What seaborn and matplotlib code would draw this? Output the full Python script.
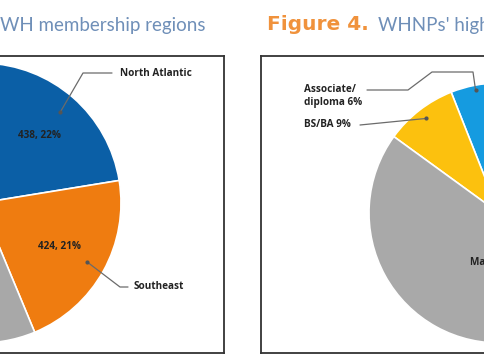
import numpy as np
import matplotlib
matplotlib.use("Agg")
import matplotlib.pyplot as plt
import seaborn as sns

# ---------------- data ----------------
region_names = ["North Atlantic", "Southeast", "Midwest", "West", "South Central", "Mountain"]
region_counts = [438, 424, 300, 290, 278, 260]
region_colors = ["#0b5fa6", "#ef7c10", "#a8a8a8", "#5a9bd5", "#ffc000", "#70ad47"]

degree_names = ["Associate/\ndiploma", "BS/BA", "Master's", "DNP", "PhD"]
degree_pcts = [6, 9, 72, 10, 3]
degree_colors = ["#159be0", "#fcc10e", "#a9a9a9", "#0b5fa6", "#ef7c10"]

title_left = "WH membership regions"
title_right_a = "Figure 4."
title_right_b = "WHNPs' highest degree"

# ---------------- setup ----------------
sns.set_theme(style="white")
plt.rcParams["font.family"] = ["Open Sans", "DejaVu Sans"]

W, H = 485, 360
fig = plt.figure(figsize=(W / 100, H / 100), dpi=100)
fig.patch.set_facecolor("white")

def frac(px, py):
    return px / W, 1 - py / H

def frame(x0, y0, x1, y1):
    ax = fig.add_axes([x0 / W, 1 - y1 / H, (x1 - x0) / W, (y1 - y0) / H])
    ax.set_xticks([]); ax.set_yticks([])
    ax.set_facecolor("white")
    for s in ax.spines.values():
        s.set_color("#333333"); s.set_linewidth(1.3); s.set_visible(True)
    ax.set_zorder(0)
    return ax

def pie_axes(cx, cy, r):
    ax = fig.add_axes([(cx - r) / W, 1 - (cy + r) / H, 2 * r / W, 2 * r / H])
    ax.set_zorder(1)
    ax.patch.set_alpha(0)
    return ax

frame(-20, 56, 224, 353)
frame(261, 56, 520, 353)

LBL = dict(fontsize=7.2, fontweight="bold", color="#222222")
LINE = dict(color="#6b6b6b", lw=0.9, clip_on=False)

# ---------------- left pie ----------------
cxL, cyL, rL = -19, 203, 140
axL = pie_axes(cxL, cyL, rL)
total = sum(region_counts)
wedgesL, _ = axL.pie(region_counts, colors=region_colors, startangle=88.5,
                     counterclock=False, radius=1,
                     wedgeprops=dict(edgecolor="white", linewidth=1.2))
axL.set_xlim(-1, 1); axL.set_ylim(-1, 1)

def mid(w):
    return np.deg2rad((w.theta1 + w.theta2) / 2)

def pxL(px, py):
    return (px - cxL) / rL, (cyL - py) / rL

for w, v in zip(wedgesL[:3], region_counts[:3]):
    a = mid(w)
    axL.text(0.64 * np.cos(a), 0.64 * np.sin(a), f"{v}, {round(100 * v / total)}%",
             ha="center", va="center", **LBL)

# North Atlantic leader
a = mid(wedgesL[0])
d = (0.86 * np.cos(a), 0.86 * np.sin(a))
p1 = pxL(83, 73); p2 = pxL(112, 73)
axL.plot([d[0], p1[0], p2[0]], [d[1], p1[1], p2[1]], **LINE)
axL.plot(*d, "o", ms=2, color="#555555", clip_on=False)
axL.text(*pxL(120, 73), region_names[0], ha="left", va="center", **LBL)

# Southeast leader
a = mid(wedgesL[1])
d = (0.87 * np.cos(a), 0.87 * np.sin(a))
p1 = pxL(120, 287); p2 = pxL(128, 287)
axL.plot([d[0], p1[0], p2[0]], [d[1], p1[1], p2[1]], **LINE)
axL.plot(*d, "o", ms=2, color="#555555", clip_on=False)
axL.text(*pxL(134, 287), region_names[1], ha="left", va="center", **LBL)

# ---------------- right pie ----------------
cxR, cyR, rR = 499, 213, 130
axR = pie_axes(cxR, cyR, rR)
wedgesR, _ = axR.pie(degree_pcts, colors=degree_colors, startangle=90,
                     counterclock=True, radius=1,
                     wedgeprops=dict(edgecolor="white", linewidth=1.2))
axR.set_xlim(-1, 1); axR.set_ylim(-1, 1)

def pxR(px, py):
    return (px - cxR) / rR, (cyR - py) / rR

# Associate leader
a = mid(wedgesR[0])
d = (0.96 * np.cos(a), 0.96 * np.sin(a))
pts = [pxR(367, 90), pxR(408, 90), pxR(432, 72), pxR(473, 72)]
xs = [p[0] for p in pts] + [d[0]]
ys = [p[1] for p in pts] + [d[1]]
axR.plot(xs, ys, **LINE)
axR.plot(*d, "o", ms=2, color="#555555", clip_on=False)
axR.text(*pxR(304, 96), f"{degree_names[0]} {degree_pcts[0]}%", ha="left", va="center",
         linespacing=1.25, **LBL)

# BS/BA leader
a = mid(wedgesR[1])
d = (0.92 * np.cos(a), 0.92 * np.sin(a))
p1 = pxR(360, 125)
axR.plot([p1[0], d[0]], [p1[1], d[1]], **LINE)
axR.plot(*d, "o", ms=2, color="#555555", clip_on=False)
axR.text(*pxR(304, 125), f"{degree_names[1]} {degree_pcts[1]}%", ha="left", va="center", **LBL)

# Master's label
axR.text(*pxR(470, 263), f"{degree_names[2]} {degree_pcts[2]}%", ha="left", va="center", **LBL)

# ---------------- titles ----------------
fig.text(*frac(0, 25), title_left, ha="left", va="center", fontsize=13.5,
         color="#6f8fb8", family=["Lato", "DejaVu Sans"])
fig.text(*frac(267, 24), title_right_a, ha="left", va="center", fontsize=14.5,
         color="#f0923c", fontweight="bold", family=["DejaVu Sans"])
fig.text(*frac(378, 25), title_right_b, ha="left", va="center", fontsize=13.5,
         color="#6f8fb8", family=["Lato", "DejaVu Sans"])

fig.savefig("out.png", dpi=100)
